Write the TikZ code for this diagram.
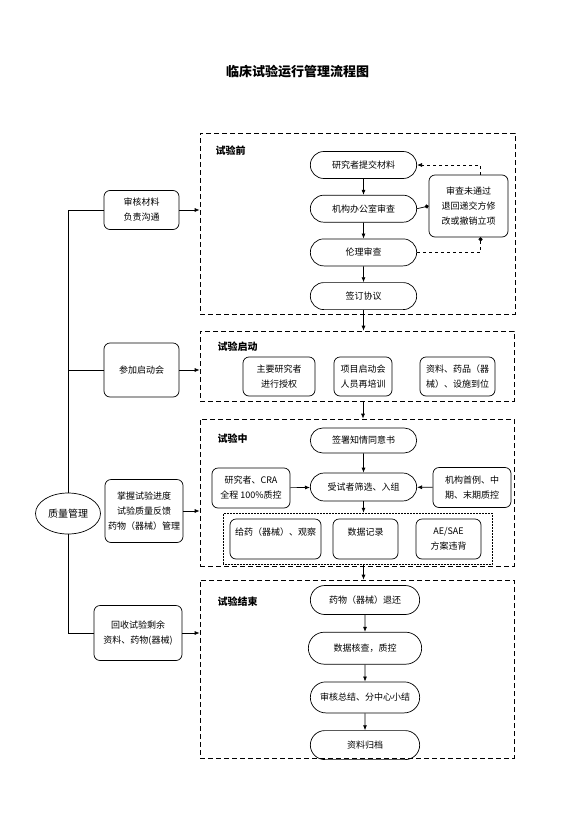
\documentclass[tikz,border=0pt]{standalone}
\usepackage{fontspec}
\setmainfont{Noto Sans CJK SC}
\usetikzlibrary{shapes.misc, shapes.geometric, positioning, arrows.meta}

\begin{document}
\begin{tikzpicture}[x = 1pt, y = 1pt, line width = 0.7pt,
  every node/.style = {font = \fontsize{9}{15}\selectfont},
  frame/.style = {draw, dash pattern = on 5pt off 3pt, inner sep = 0pt},
  pill/.style = {draw, rounded rectangle, minimum width = 113pt, minimum height = 27pt},
  box/.style = {draw, rounded corners = 6pt, align = center, inner sep = 2pt},
  phase/.style = {anchor = west, font = \fontsize{10}{12}\selectfont\bfseries},
  edge/.style = {-{Latex[length = 5pt, width = 4pt]}},
  node distance = 16pt]

  \useasboundingbox (0,0) rectangle (583,-814);

  \node[font = \fontsize{13}{15}\selectfont\bfseries] (title) at (297.5,-72) {临床试验运行管理流程图};

  % phase frames
  \node[frame, minimum width = 315pt, minimum height = 181pt] (pre) at (357.5,-223.5) {};
  \node[frame, minimum width = 314pt, minimum height = 70pt] (start) at (357,-366) {};
  \node[frame, minimum width = 314pt, minimum height = 147pt] (during) at (357,-492.5) {};
  \node[frame, minimum width = 314pt, minimum height = 178pt] (end) at (357,-669) {};

  \node[phase] (lpre) at (212,-151) {试验前};
  \node[phase] (lstart) at (214,-347) {试验启动};
  \node[phase] (lduring) at (214,-439) {试验中};
  \node[phase] (lend) at (214,-602) {试验结束};

  % before the trial
  \node[pill] (submit) at (363.5,-165) {研究者提交材料};
  \node[pill, below = of submit] (office) {机构办公室审查};
  \node[pill, below = of office] (ethics) {伦理审查};
  \node[pill, below = of ethics] (sign) {签订协议};
  \node[box, minimum width = 79pt, minimum height = 62pt] (reject) at (468.5,-206) {审查未通过\\退回递交方修\\改或撤销立项};

  % start-up
  \node[box, minimum width = 72pt, minimum height = 39pt] (auth) at (279,-376.5) {主要研究者\\进行授权};
  \node[box, minimum width = 58pt, minimum height = 39pt] (meet) at (363,-376.5) {项目启动会\\人员再培训};
  \node[box, minimum width = 75pt, minimum height = 39pt] (supply) at (457.5,-376.5) {资料、药品（器\\械）、设施到位};

  % during the trial
  \node[pill, minimum height = 25pt] (consent) at (363.5,-440.5) {签署知情同意书};
  \node[pill, minimum height = 28pt] (screen) at (363.5,-487) {受试者筛选、入组};
  \node[box, minimum width = 78pt, minimum height = 40pt] (cra) at (251,-488) {研究者、CRA\\全程 100\%质控};
  \node[box, minimum width = 78pt, minimum height = 40pt] (inst) at (472,-487.5) {机构首例、中\\期、末期质控};
  \node[draw, densely dotted, line width = 0.5pt, minimum width = 269pt, minimum height = 51pt, inner sep = 0pt] (tasks) at (357.5,-538.5) {};
  \node[box, minimum width = 91pt, minimum height = 40pt] (dose) at (275.5,-539) {给药（器械）、观察\\\mbox{}};
  \node[box, minimum width = 65pt, minimum height = 40pt] (record) at (365.5,-539) {数据记录\\\mbox{}};
  \node[box, minimum width = 65pt, minimum height = 40pt] (ae) at (448.5,-539) {AE/SAE\\方案违背};

  % end of the trial
  \node[pill, minimum width = 116pt, minimum height = 29pt] (return) at (365,-600) {药物（器械）退还};
  \node[pill, minimum width = 120pt, minimum height = 32pt, below = 17pt of return] (verify) {数据核查，质控};
  \node[pill, minimum width = 116pt, minimum height = 31pt, below = 17pt of verify] (summary) {审核总结、分中心小结};
  \node[pill, minimum width = 116pt, minimum height = 29pt, below = 17pt of summary] (archive) {资料归档};

  % quality management
  \node[draw, ellipse, minimum width = 65pt, minimum height = 41pt, inner sep = 0pt,
    font = \fontsize{10}{12}\selectfont] (qm) at (68,-513.5) {质量管理};
  \node[box, minimum width = 75pt, minimum height = 39pt] (check) at (141.5,-210) {审核材料\\负责沟通};
  \node[box, minimum width = 75pt, minimum height = 54pt] (kickoff) at (141.5,-370) {参加启动会};
  \node[box, minimum width = 78pt, minimum height = 63pt] (monitor) at (144,-511) {掌握试验进度\\试验质量反馈\\药物（器械）管理};
  \node[box, minimum width = 88pt, minimum height = 55pt] (recover) at (138,-633) {回收试验剩余\\资料、药物(器械)};

  \draw (qm.north) |- (check.west);
  \draw (qm.north) |- (kickoff.west);
  \draw (qm.south) |- (recover.west);

  \draw[edge] (check.east) -- (check.east -| pre.west);
  \draw[edge] (kickoff.east) -- (kickoff.east -| start.west);
  \draw[edge] (monitor.east) -- (monitor.east -| during.west);
  \draw[edge] (recover.east) -- (recover.east -| end.west);

  % main flow
  \draw[edge] (submit) to (office);
  \draw[edge] (office) to (ethics);
  \draw[edge] (ethics) to (sign);
  \draw[edge] (sign.south) -- (sign.south |- start.north);
  \draw[edge] (meet.south |- start.south) -- (meet.south |- during.north);
  \draw[edge] (consent) to (screen);
  \draw[edge] (cra) to (screen);
  \draw[edge] (inst) to (screen);
  \draw[edge] (screen.south) -- (screen.south |- tasks.north);
  \draw[edge] (screen.south |- tasks.south) -- (screen.south |- end.north);
  \draw[edge] (return) to (verify);
  \draw[edge] (verify) to (summary);
  \draw[edge] (summary) to (archive);

  % review loop
  \draw[edge, dashed] ([xshift = 12pt]reject.north) |- (submit.east);
  \draw[{Circle[length = 4pt]}-] (reject.west) -- (office.east);
  \draw[{Circle[length = 4pt]}-, dashed] ([xshift = 12pt]reject.south) |- (ethics.east);
\end{tikzpicture}
\end{document}
